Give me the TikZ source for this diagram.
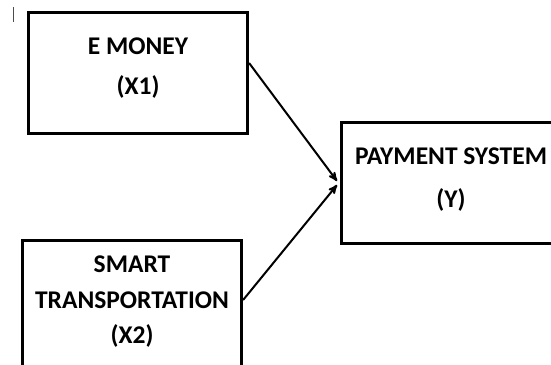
\documentclass[tikz,border=0pt]{standalone}
\usepackage{fontspec}
\setmainfont{Carlito}
\usetikzlibrary{arrows}

\begin{document}
\begin{tikzpicture}[x=1pt,y=-1pt,>=stealth',line width=3.2pt,
  var/.style={draw,rectangle,align=center,inner sep=0pt,
    minimum width=219pt,minimum height=121pt},
  link/.style={->,line width=2pt,shorten >=0pt}]
  \useasboundingbox (0,0) rectangle (551,364);
  \clip (0,0) rectangle (551,364);
% define the variables
  \node[var,text depth=14pt,font=\bfseries\fontsize{25.5}{40}\selectfont]
        (emoney)  at (138,73)     {E MONEY\\(X1)};
  \node[var,minimum height=131pt,text depth=12pt,
        font=\bfseries\fontsize{25.5}{35.5}\selectfont]
        (smart)   at (132,306)    {SMART\\TRANSPORTATION\\(X2)};
  \node[var,text depth=11pt,font=\bfseries\fontsize{25.5}{43}\selectfont]
        (payment) at (451,183)    {PAYMENT SYSTEM\\(Y)};
  \coordinate (intop) at (337,181);
  \coordinate (inbot) at (337,185);
  \draw[line width=1pt,black!70] (13,7) -- (13,22);

% define the links
  \path[link] ([yshift=10pt]emoney.east) edge (intop)
              ([yshift=6pt]smart.east)   edge (inbot);
\end{tikzpicture}
\end{document}
